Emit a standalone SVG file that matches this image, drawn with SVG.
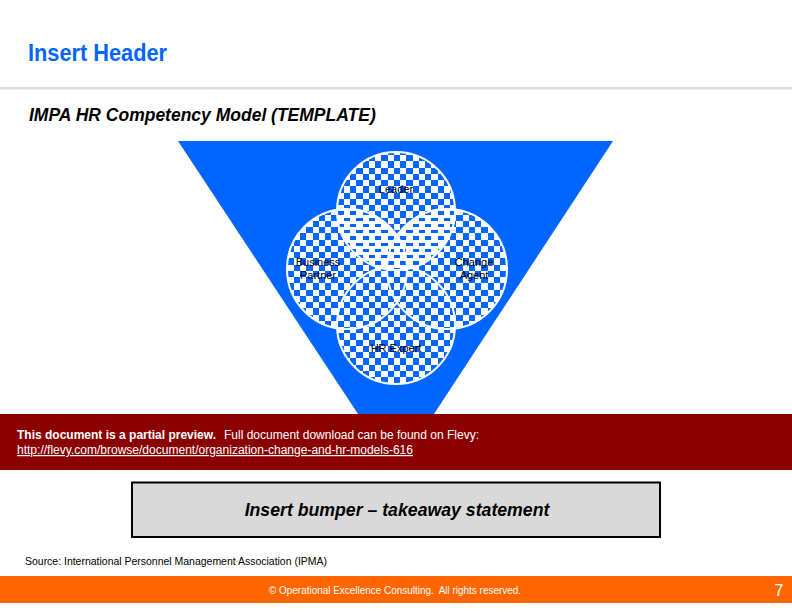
<svg xmlns="http://www.w3.org/2000/svg" width="792" height="612" viewBox="0 0 792 612">
<style>
.s{font-family:"Liberation Sans",Arial,sans-serif}
.lab{font-family:"Liberation Sans",Arial,sans-serif;font-size:11px;fill:#000;text-anchor:middle}
.c{stroke:#fff;stroke-width:2}
</style>
<defs>
<path id="cells" fill="#fff" shape-rendering="crispEdges" d="M0 0h6v6h-6zM6 6h6v6h-6zM12 0h7v6h-7zM19 6h6v6h-6zM0 12h6v7h-6zM6 19h6v6h-6zM12 12h7v7h-7zM19 19h6v6h-6z"/>
<pattern id="chkA" width="25" height="25" patternUnits="userSpaceOnUse" patternTransform="translate(319 221)">
<use href="#cells"/>
</pattern>
<pattern id="chkB" width="25" height="25" patternUnits="userSpaceOnUse" patternTransform="translate(319 224)">
<use href="#cells"/>
</pattern>
</defs>
<rect width="792" height="612" fill="#fff"/>
<text class="s" x="28" y="61" font-size="23" font-weight="bold" fill="#0066ff" textLength="139" lengthAdjust="spacingAndGlyphs">Insert Header</text>
<rect x="0" y="87" width="792" height="2.5" fill="#dcdcdc"/>
<text class="s" x="29" y="121" font-size="17.500" font-weight="bold" font-style="italic" fill="#000">IMPA HR Competency Model (TEMPLATE)</text>
<polygon id="triangle" points="178,141 613,141 434,414 358,414" fill="#0066ff"/>
<g id="leader"><circle class="c" cx="396" cy="211" r="59" fill="url(#chkB)"/></g>
<g id="business-partner"><circle class="c" cx="347" cy="269" r="60" fill="url(#chkA)"/></g>
<g id="change-agent"><circle class="c" cx="447" cy="269" r="60" fill="url(#chkA)"/></g>
<g id="hr-expert"><circle class="c" cx="396" cy="325" r="59" fill="url(#chkA)"/></g>
<text class="lab" x="396" y="193">Leader</text>
<text class="lab" x="318" y="266">Business</text>
<text class="lab" x="318" y="279">Partner</text>
<text class="lab" x="474" y="266">Change</text>
<text class="lab" x="474" y="279">Agent</text>
<text class="lab" x="396" y="352">HR Expert</text>
<rect x="0" y="414" width="792" height="56" fill="#8b0000"/>
<text class="s" x="17" y="439" font-size="12" font-weight="bold" fill="#fff" textLength="199" lengthAdjust="spacingAndGlyphs">This document is a partial preview.</text>
<text class="s" x="224" y="439" font-size="12" fill="#fff" textLength="255" lengthAdjust="spacingAndGlyphs">Full document download can be found on Flevy:</text>
<text class="s" x="17" y="454" font-size="12" fill="#fff" text-decoration="underline" textLength="396" lengthAdjust="spacingAndGlyphs">http://flevy.com/browse/document/organization-change-and-hr-models-616</text>
<rect x="132" y="482.500" width="528" height="54.500" fill="#d9d9d9" stroke="#000" stroke-width="2"/>
<text class="s" x="397" y="516" font-size="17.700" font-weight="bold" font-style="italic" text-anchor="middle" fill="#000">Insert bumper – takeaway statement</text>
<text class="s" x="25" y="565" font-size="10.500" fill="#000" textLength="302" lengthAdjust="spacingAndGlyphs">Source: International Personnel Management Association (IPMA)</text>
<rect x="0" y="576" width="792" height="27" fill="#ff6600"/>
<text class="s" x="395" y="594" font-size="10" fill="#fff" text-anchor="middle" xml:space="preserve" textLength="252" lengthAdjust="spacingAndGlyphs">© Operational Excellence Consulting.  All rights reserved.</text>
<text class="s" x="779" y="596" font-size="16" fill="#fff" text-anchor="middle">7</text>
</svg>
